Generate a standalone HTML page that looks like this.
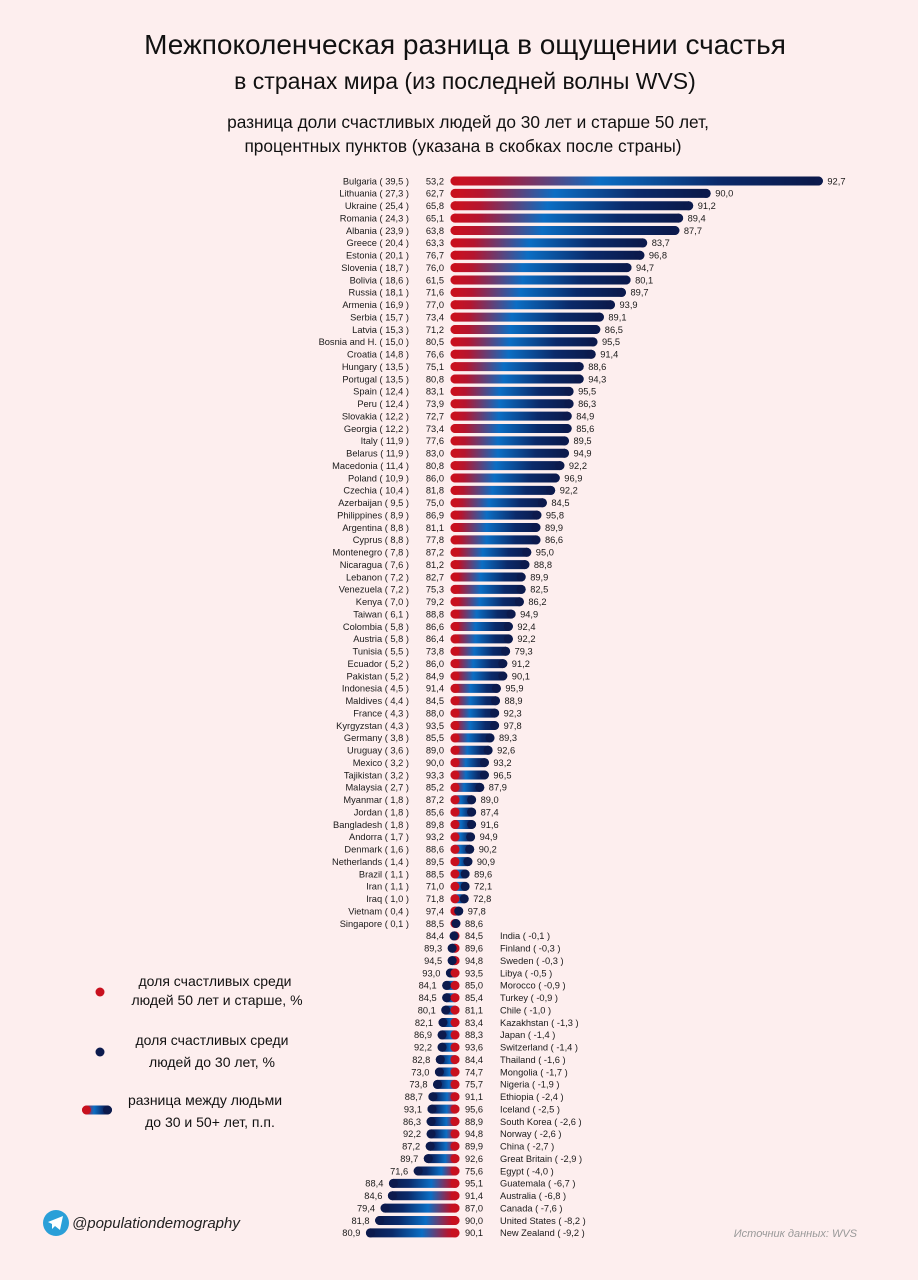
<!DOCTYPE html>
<html><head><meta charset="utf-8"><style>
html,body{margin:0;padding:0;background:#fdeeee;}
svg{display:block;font-family:"Liberation Sans",sans-serif;}
text{font-size:9.3px;fill:#1a1a1a;}
.e{text-anchor:end;}
.t{font-size:28px;text-anchor:middle;fill:#111;}
.s{font-size:23px;text-anchor:middle;fill:#111;}
.c{font-size:17.3px;text-anchor:middle;fill:#111;}
.l{font-size:14px;text-anchor:middle;fill:#111;}
</style></head><body>
<svg width="918" height="1280" viewBox="0 0 918 1280">
<defs>
<linearGradient id="gp" x1="0" x2="1" y1="0" y2="0"><stop offset="0" stop-color="#d0101c"/><stop offset="0.12" stop-color="#b5152f"/><stop offset="0.4" stop-color="#0b6ec4"/><stop offset="0.72" stop-color="#0b2a6a"/><stop offset="1" stop-color="#0b1848"/></linearGradient>
<linearGradient id="gn" x1="1" x2="0" y1="0" y2="0"><stop offset="0" stop-color="#d0101c"/><stop offset="0.12" stop-color="#b5152f"/><stop offset="0.4" stop-color="#0b6ec4"/><stop offset="0.72" stop-color="#0b2a6a"/><stop offset="1" stop-color="#0b1848"/></linearGradient>
</defs>
<text class="t" x="465" y="54">Межпоколенческая разница в ощущении счастья</text>
<text class="s" x="465" y="89">в странах мира (из последней волны WVS)</text>
<text class="c" x="468" y="128">разница доли счастливых людей до 30 лет и старше 50 лет,</text>
<text class="c" x="463" y="152">процентных пунктов (указана в скобках после страны)</text>
<g transform="translate(1,0)">
<g transform="translate(0,181)"><text x="408" y="3.3" class="e">Bulgaria ( 39,5 )</text><text x="443" y="3.3" class="e">53,2</text><rect x="449.5" y="-4.5" width="372.4" height="9" rx="4.5" fill="url(#gp)"/><circle cx="454" r="4.5" fill="#c8101e"/><circle cx="817.4" r="4.5" fill="#0c1a4d"/><text x="826.4" y="3.3">92,7</text></g>
<g transform="translate(0,193.4)"><text x="408" y="3.3" class="e">Lithuania ( 27,3 )</text><text x="443" y="3.3" class="e">62,7</text><rect x="449.5" y="-4.5" width="260.2" height="9" rx="4.5" fill="url(#gp)"/><circle cx="454" r="4.5" fill="#c8101e"/><circle cx="705.2" r="4.5" fill="#0c1a4d"/><text x="714.2" y="3.3">90,0</text></g>
<g transform="translate(0,205.8)"><text x="408" y="3.3" class="e">Ukraine ( 25,4 )</text><text x="443" y="3.3" class="e">65,8</text><rect x="449.5" y="-4.5" width="242.7" height="9" rx="4.5" fill="url(#gp)"/><circle cx="454" r="4.5" fill="#c8101e"/><circle cx="687.7" r="4.5" fill="#0c1a4d"/><text x="696.7" y="3.3">91,2</text></g>
<g transform="translate(0,218.1)"><text x="408" y="3.3" class="e">Romania ( 24,3 )</text><text x="443" y="3.3" class="e">65,1</text><rect x="449.5" y="-4.5" width="232.6" height="9" rx="4.5" fill="url(#gp)"/><circle cx="454" r="4.5" fill="#c8101e"/><circle cx="677.6" r="4.5" fill="#0c1a4d"/><text x="686.6" y="3.3">89,4</text></g>
<g transform="translate(0,230.5)"><text x="408" y="3.3" class="e">Albania ( 23,9 )</text><text x="443" y="3.3" class="e">63,8</text><rect x="449.5" y="-4.5" width="228.9" height="9" rx="4.5" fill="url(#gp)"/><circle cx="454" r="4.5" fill="#c8101e"/><circle cx="673.9" r="4.5" fill="#0c1a4d"/><text x="682.9" y="3.3">87,7</text></g>
<g transform="translate(0,242.9)"><text x="408" y="3.3" class="e">Greece ( 20,4 )</text><text x="443" y="3.3" class="e">63,3</text><rect x="449.5" y="-4.5" width="196.7" height="9" rx="4.5" fill="url(#gp)"/><circle cx="454" r="4.5" fill="#c8101e"/><circle cx="641.7" r="4.5" fill="#0c1a4d"/><text x="650.7" y="3.3">83,7</text></g>
<g transform="translate(0,255.3)"><text x="408" y="3.3" class="e">Estonia ( 20,1 )</text><text x="443" y="3.3" class="e">76,7</text><rect x="449.5" y="-4.5" width="193.9" height="9" rx="4.5" fill="url(#gp)"/><circle cx="454" r="4.5" fill="#c8101e"/><circle cx="638.9" r="4.5" fill="#0c1a4d"/><text x="647.9" y="3.3">96,8</text></g>
<g transform="translate(0,267.6)"><text x="408" y="3.3" class="e">Slovenia ( 18,7 )</text><text x="443" y="3.3" class="e">76,0</text><rect x="449.5" y="-4.5" width="181" height="9" rx="4.5" fill="url(#gp)"/><circle cx="454" r="4.5" fill="#c8101e"/><circle cx="626" r="4.5" fill="#0c1a4d"/><text x="635" y="3.3">94,7</text></g>
<g transform="translate(0,280)"><text x="408" y="3.3" class="e">Bolivia ( 18,6 )</text><text x="443" y="3.3" class="e">61,5</text><rect x="449.5" y="-4.5" width="180.1" height="9" rx="4.5" fill="url(#gp)"/><circle cx="454" r="4.5" fill="#c8101e"/><circle cx="625.1" r="4.5" fill="#0c1a4d"/><text x="634.1" y="3.3">80,1</text></g>
<g transform="translate(0,292.4)"><text x="408" y="3.3" class="e">Russia ( 18,1 )</text><text x="443" y="3.3" class="e">71,6</text><rect x="449.5" y="-4.5" width="175.5" height="9" rx="4.5" fill="url(#gp)"/><circle cx="454" r="4.5" fill="#c8101e"/><circle cx="620.5" r="4.5" fill="#0c1a4d"/><text x="629.5" y="3.3">89,7</text></g>
<g transform="translate(0,304.8)"><text x="408" y="3.3" class="e">Armenia ( 16,9 )</text><text x="443" y="3.3" class="e">77,0</text><rect x="449.5" y="-4.5" width="164.5" height="9" rx="4.5" fill="url(#gp)"/><circle cx="454" r="4.5" fill="#c8101e"/><circle cx="609.5" r="4.5" fill="#0c1a4d"/><text x="618.5" y="3.3">93,9</text></g>
<g transform="translate(0,317.1)"><text x="408" y="3.3" class="e">Serbia ( 15,7 )</text><text x="443" y="3.3" class="e">73,4</text><rect x="449.5" y="-4.5" width="153.4" height="9" rx="4.5" fill="url(#gp)"/><circle cx="454" r="4.5" fill="#c8101e"/><circle cx="598.4" r="4.5" fill="#0c1a4d"/><text x="607.4" y="3.3">89,1</text></g>
<g transform="translate(0,329.5)"><text x="408" y="3.3" class="e">Latvia ( 15,3 )</text><text x="443" y="3.3" class="e">71,2</text><rect x="449.5" y="-4.5" width="149.8" height="9" rx="4.5" fill="url(#gp)"/><circle cx="454" r="4.5" fill="#c8101e"/><circle cx="594.8" r="4.5" fill="#0c1a4d"/><text x="603.8" y="3.3">86,5</text></g>
<g transform="translate(0,341.9)"><text x="408" y="3.3" class="e">Bosnia and H. ( 15,0 )</text><text x="443" y="3.3" class="e">80,5</text><rect x="449.5" y="-4.5" width="147" height="9" rx="4.5" fill="url(#gp)"/><circle cx="454" r="4.5" fill="#c8101e"/><circle cx="592" r="4.5" fill="#0c1a4d"/><text x="601" y="3.3">95,5</text></g>
<g transform="translate(0,354.3)"><text x="408" y="3.3" class="e">Croatia ( 14,8 )</text><text x="443" y="3.3" class="e">76,6</text><rect x="449.5" y="-4.5" width="145.2" height="9" rx="4.5" fill="url(#gp)"/><circle cx="454" r="4.5" fill="#c8101e"/><circle cx="590.2" r="4.5" fill="#0c1a4d"/><text x="599.2" y="3.3">91,4</text></g>
<g transform="translate(0,366.6)"><text x="408" y="3.3" class="e">Hungary ( 13,5 )</text><text x="443" y="3.3" class="e">75,1</text><rect x="449.5" y="-4.5" width="133.2" height="9" rx="4.5" fill="url(#gp)"/><circle cx="454" r="4.5" fill="#c8101e"/><circle cx="578.2" r="4.5" fill="#0c1a4d"/><text x="587.2" y="3.3">88,6</text></g>
<g transform="translate(0,379)"><text x="408" y="3.3" class="e">Portugal ( 13,5 )</text><text x="443" y="3.3" class="e">80,8</text><rect x="449.5" y="-4.5" width="133.2" height="9" rx="4.5" fill="url(#gp)"/><circle cx="454" r="4.5" fill="#c8101e"/><circle cx="578.2" r="4.5" fill="#0c1a4d"/><text x="587.2" y="3.3">94,3</text></g>
<g transform="translate(0,391.4)"><text x="408" y="3.3" class="e">Spain ( 12,4 )</text><text x="443" y="3.3" class="e">83,1</text><rect x="449.5" y="-4.5" width="123.1" height="9" rx="4.5" fill="url(#gp)"/><circle cx="454" r="4.5" fill="#c8101e"/><circle cx="568.1" r="4.5" fill="#0c1a4d"/><text x="577.1" y="3.3">95,5</text></g>
<g transform="translate(0,403.8)"><text x="408" y="3.3" class="e">Peru ( 12,4 )</text><text x="443" y="3.3" class="e">73,9</text><rect x="449.5" y="-4.5" width="123.1" height="9" rx="4.5" fill="url(#gp)"/><circle cx="454" r="4.5" fill="#c8101e"/><circle cx="568.1" r="4.5" fill="#0c1a4d"/><text x="577.1" y="3.3">86,3</text></g>
<g transform="translate(0,416.1)"><text x="408" y="3.3" class="e">Slovakia ( 12,2 )</text><text x="443" y="3.3" class="e">72,7</text><rect x="449.5" y="-4.5" width="121.2" height="9" rx="4.5" fill="url(#gp)"/><circle cx="454" r="4.5" fill="#c8101e"/><circle cx="566.2" r="4.5" fill="#0c1a4d"/><text x="575.2" y="3.3">84,9</text></g>
<g transform="translate(0,428.5)"><text x="408" y="3.3" class="e">Georgia ( 12,2 )</text><text x="443" y="3.3" class="e">73,4</text><rect x="449.5" y="-4.5" width="121.2" height="9" rx="4.5" fill="url(#gp)"/><circle cx="454" r="4.5" fill="#c8101e"/><circle cx="566.2" r="4.5" fill="#0c1a4d"/><text x="575.2" y="3.3">85,6</text></g>
<g transform="translate(0,440.9)"><text x="408" y="3.3" class="e">Italy ( 11,9 )</text><text x="443" y="3.3" class="e">77,6</text><rect x="449.5" y="-4.5" width="118.5" height="9" rx="4.5" fill="url(#gp)"/><circle cx="454" r="4.5" fill="#c8101e"/><circle cx="563.5" r="4.5" fill="#0c1a4d"/><text x="572.5" y="3.3">89,5</text></g>
<g transform="translate(0,453.3)"><text x="408" y="3.3" class="e">Belarus ( 11,9 )</text><text x="443" y="3.3" class="e">83,0</text><rect x="449.5" y="-4.5" width="118.5" height="9" rx="4.5" fill="url(#gp)"/><circle cx="454" r="4.5" fill="#c8101e"/><circle cx="563.5" r="4.5" fill="#0c1a4d"/><text x="572.5" y="3.3">94,9</text></g>
<g transform="translate(0,465.6)"><text x="408" y="3.3" class="e">Macedonia ( 11,4 )</text><text x="443" y="3.3" class="e">80,8</text><rect x="449.5" y="-4.5" width="113.9" height="9" rx="4.5" fill="url(#gp)"/><circle cx="454" r="4.5" fill="#c8101e"/><circle cx="558.9" r="4.5" fill="#0c1a4d"/><text x="567.9" y="3.3">92,2</text></g>
<g transform="translate(0,478)"><text x="408" y="3.3" class="e">Poland ( 10,9 )</text><text x="443" y="3.3" class="e">86,0</text><rect x="449.5" y="-4.5" width="109.3" height="9" rx="4.5" fill="url(#gp)"/><circle cx="454" r="4.5" fill="#c8101e"/><circle cx="554.3" r="4.5" fill="#0c1a4d"/><text x="563.3" y="3.3">96,9</text></g>
<g transform="translate(0,490.4)"><text x="408" y="3.3" class="e">Czechia ( 10,4 )</text><text x="443" y="3.3" class="e">81,8</text><rect x="449.5" y="-4.5" width="104.7" height="9" rx="4.5" fill="url(#gp)"/><circle cx="454" r="4.5" fill="#c8101e"/><circle cx="549.7" r="4.5" fill="#0c1a4d"/><text x="558.7" y="3.3">92,2</text></g>
<g transform="translate(0,502.8)"><text x="408" y="3.3" class="e">Azerbaijan ( 9,5 )</text><text x="443" y="3.3" class="e">75,0</text><rect x="449.5" y="-4.5" width="96.4" height="9" rx="4.5" fill="url(#gp)"/><circle cx="454" r="4.5" fill="#c8101e"/><circle cx="541.4" r="4.5" fill="#0c1a4d"/><text x="550.4" y="3.3">84,5</text></g>
<g transform="translate(0,515.1)"><text x="408" y="3.3" class="e">Philippines ( 8,9 )</text><text x="443" y="3.3" class="e">86,9</text><rect x="449.5" y="-4.5" width="90.9" height="9" rx="4.5" fill="url(#gp)"/><circle cx="454" r="4.5" fill="#c8101e"/><circle cx="535.9" r="4.5" fill="#0c1a4d"/><text x="544.9" y="3.3">95,8</text></g>
<g transform="translate(0,527.5)"><text x="408" y="3.3" class="e">Argentina ( 8,8 )</text><text x="443" y="3.3" class="e">81,1</text><rect x="449.5" y="-4.5" width="90" height="9" rx="4.5" fill="url(#gp)"/><circle cx="454" r="4.5" fill="#c8101e"/><circle cx="535" r="4.5" fill="#0c1a4d"/><text x="544" y="3.3">89,9</text></g>
<g transform="translate(0,539.9)"><text x="408" y="3.3" class="e">Cyprus ( 8,8 )</text><text x="443" y="3.3" class="e">77,8</text><rect x="449.5" y="-4.5" width="90" height="9" rx="4.5" fill="url(#gp)"/><circle cx="454" r="4.5" fill="#c8101e"/><circle cx="535" r="4.5" fill="#0c1a4d"/><text x="544" y="3.3">86,6</text></g>
<g transform="translate(0,552.3)"><text x="408" y="3.3" class="e">Montenegro ( 7,8 )</text><text x="443" y="3.3" class="e">87,2</text><rect x="449.5" y="-4.5" width="80.8" height="9" rx="4.5" fill="url(#gp)"/><circle cx="454" r="4.5" fill="#c8101e"/><circle cx="525.8" r="4.5" fill="#0c1a4d"/><text x="534.8" y="3.3">95,0</text></g>
<g transform="translate(0,564.6)"><text x="408" y="3.3" class="e">Nicaragua ( 7,6 )</text><text x="443" y="3.3" class="e">81,2</text><rect x="449.5" y="-4.5" width="78.9" height="9" rx="4.5" fill="url(#gp)"/><circle cx="454" r="4.5" fill="#c8101e"/><circle cx="523.9" r="4.5" fill="#0c1a4d"/><text x="532.9" y="3.3">88,8</text></g>
<g transform="translate(0,577)"><text x="408" y="3.3" class="e">Lebanon ( 7,2 )</text><text x="443" y="3.3" class="e">82,7</text><rect x="449.5" y="-4.5" width="75.2" height="9" rx="4.5" fill="url(#gp)"/><circle cx="454" r="4.5" fill="#c8101e"/><circle cx="520.2" r="4.5" fill="#0c1a4d"/><text x="529.2" y="3.3">89,9</text></g>
<g transform="translate(0,589.4)"><text x="408" y="3.3" class="e">Venezuela ( 7,2 )</text><text x="443" y="3.3" class="e">75,3</text><rect x="449.5" y="-4.5" width="75.2" height="9" rx="4.5" fill="url(#gp)"/><circle cx="454" r="4.5" fill="#c8101e"/><circle cx="520.2" r="4.5" fill="#0c1a4d"/><text x="529.2" y="3.3">82,5</text></g>
<g transform="translate(0,601.8)"><text x="408" y="3.3" class="e">Kenya ( 7,0 )</text><text x="443" y="3.3" class="e">79,2</text><rect x="449.5" y="-4.5" width="73.4" height="9" rx="4.5" fill="url(#gp)"/><circle cx="454" r="4.5" fill="#c8101e"/><circle cx="518.4" r="4.5" fill="#0c1a4d"/><text x="527.4" y="3.3">86,2</text></g>
<g transform="translate(0,614.1)"><text x="408" y="3.3" class="e">Taiwan ( 6,1 )</text><text x="443" y="3.3" class="e">88,8</text><rect x="449.5" y="-4.5" width="65.1" height="9" rx="4.5" fill="url(#gp)"/><circle cx="454" r="4.5" fill="#c8101e"/><circle cx="510.1" r="4.5" fill="#0c1a4d"/><text x="519.1" y="3.3">94,9</text></g>
<g transform="translate(0,626.5)"><text x="408" y="3.3" class="e">Colombia ( 5,8 )</text><text x="443" y="3.3" class="e">86,6</text><rect x="449.5" y="-4.5" width="62.4" height="9" rx="4.5" fill="url(#gp)"/><circle cx="454" r="4.5" fill="#c8101e"/><circle cx="507.4" r="4.5" fill="#0c1a4d"/><text x="516.4" y="3.3">92,4</text></g>
<g transform="translate(0,638.9)"><text x="408" y="3.3" class="e">Austria ( 5,8 )</text><text x="443" y="3.3" class="e">86,4</text><rect x="449.5" y="-4.5" width="62.4" height="9" rx="4.5" fill="url(#gp)"/><circle cx="454" r="4.5" fill="#c8101e"/><circle cx="507.4" r="4.5" fill="#0c1a4d"/><text x="516.4" y="3.3">92,2</text></g>
<g transform="translate(0,651.3)"><text x="408" y="3.3" class="e">Tunisia ( 5,5 )</text><text x="443" y="3.3" class="e">73,8</text><rect x="449.5" y="-4.5" width="59.6" height="9" rx="4.5" fill="url(#gp)"/><circle cx="454" r="4.5" fill="#c8101e"/><circle cx="504.6" r="4.5" fill="#0c1a4d"/><text x="513.6" y="3.3">79,3</text></g>
<g transform="translate(0,663.6)"><text x="408" y="3.3" class="e">Ecuador ( 5,2 )</text><text x="443" y="3.3" class="e">86,0</text><rect x="449.5" y="-4.5" width="56.8" height="9" rx="4.5" fill="url(#gp)"/><circle cx="454" r="4.5" fill="#c8101e"/><circle cx="501.8" r="4.5" fill="#0c1a4d"/><text x="510.8" y="3.3">91,2</text></g>
<g transform="translate(0,676)"><text x="408" y="3.3" class="e">Pakistan ( 5,2 )</text><text x="443" y="3.3" class="e">84,9</text><rect x="449.5" y="-4.5" width="56.8" height="9" rx="4.5" fill="url(#gp)"/><circle cx="454" r="4.5" fill="#c8101e"/><circle cx="501.8" r="4.5" fill="#0c1a4d"/><text x="510.8" y="3.3">90,1</text></g>
<g transform="translate(0,688.4)"><text x="408" y="3.3" class="e">Indonesia ( 4,5 )</text><text x="443" y="3.3" class="e">91,4</text><rect x="449.5" y="-4.5" width="50.4" height="9" rx="4.5" fill="url(#gp)"/><circle cx="454" r="4.5" fill="#c8101e"/><circle cx="495.4" r="4.5" fill="#0c1a4d"/><text x="504.4" y="3.3">95,9</text></g>
<g transform="translate(0,700.8)"><text x="408" y="3.3" class="e">Maldives ( 4,4 )</text><text x="443" y="3.3" class="e">84,5</text><rect x="449.5" y="-4.5" width="49.5" height="9" rx="4.5" fill="url(#gp)"/><circle cx="454" r="4.5" fill="#c8101e"/><circle cx="494.5" r="4.5" fill="#0c1a4d"/><text x="503.5" y="3.3">88,9</text></g>
<g transform="translate(0,713.1)"><text x="408" y="3.3" class="e">France ( 4,3 )</text><text x="443" y="3.3" class="e">88,0</text><rect x="449.5" y="-4.5" width="48.6" height="9" rx="4.5" fill="url(#gp)"/><circle cx="454" r="4.5" fill="#c8101e"/><circle cx="493.6" r="4.5" fill="#0c1a4d"/><text x="502.6" y="3.3">92,3</text></g>
<g transform="translate(0,725.5)"><text x="408" y="3.3" class="e">Kyrgyzstan ( 4,3 )</text><text x="443" y="3.3" class="e">93,5</text><rect x="449.5" y="-4.5" width="48.6" height="9" rx="4.5" fill="url(#gp)"/><circle cx="454" r="4.5" fill="#c8101e"/><circle cx="493.6" r="4.5" fill="#0c1a4d"/><text x="502.6" y="3.3">97,8</text></g>
<g transform="translate(0,737.9)"><text x="408" y="3.3" class="e">Germany ( 3,8 )</text><text x="443" y="3.3" class="e">85,5</text><rect x="449.5" y="-4.5" width="44" height="9" rx="4.5" fill="url(#gp)"/><circle cx="454" r="4.5" fill="#c8101e"/><circle cx="489" r="4.5" fill="#0c1a4d"/><text x="498" y="3.3">89,3</text></g>
<g transform="translate(0,750.3)"><text x="408" y="3.3" class="e">Uruguay ( 3,6 )</text><text x="443" y="3.3" class="e">89,0</text><rect x="449.5" y="-4.5" width="42.1" height="9" rx="4.5" fill="url(#gp)"/><circle cx="454" r="4.5" fill="#c8101e"/><circle cx="487.1" r="4.5" fill="#0c1a4d"/><text x="496.1" y="3.3">92,6</text></g>
<g transform="translate(0,762.6)"><text x="408" y="3.3" class="e">Mexico ( 3,2 )</text><text x="443" y="3.3" class="e">90,0</text><rect x="449.5" y="-4.5" width="38.4" height="9" rx="4.5" fill="url(#gp)"/><circle cx="454" r="4.5" fill="#c8101e"/><circle cx="483.4" r="4.5" fill="#0c1a4d"/><text x="492.4" y="3.3">93,2</text></g>
<g transform="translate(0,775)"><text x="408" y="3.3" class="e">Tajikistan ( 3,2 )</text><text x="443" y="3.3" class="e">93,3</text><rect x="449.5" y="-4.5" width="38.4" height="9" rx="4.5" fill="url(#gp)"/><circle cx="454" r="4.5" fill="#c8101e"/><circle cx="483.4" r="4.5" fill="#0c1a4d"/><text x="492.4" y="3.3">96,5</text></g>
<g transform="translate(0,787.4)"><text x="408" y="3.3" class="e">Malaysia ( 2,7 )</text><text x="443" y="3.3" class="e">85,2</text><rect x="449.5" y="-4.5" width="33.8" height="9" rx="4.5" fill="url(#gp)"/><circle cx="454" r="4.5" fill="#c8101e"/><circle cx="478.8" r="4.5" fill="#0c1a4d"/><text x="487.8" y="3.3">87,9</text></g>
<g transform="translate(0,799.8)"><text x="408" y="3.3" class="e">Myanmar ( 1,8 )</text><text x="443" y="3.3" class="e">87,2</text><rect x="449.5" y="-4.5" width="25.6" height="9" rx="4.5" fill="url(#gp)"/><circle cx="454" r="4.5" fill="#c8101e"/><circle cx="470.6" r="4.5" fill="#0c1a4d"/><text x="479.6" y="3.3">89,0</text></g>
<g transform="translate(0,812.1)"><text x="408" y="3.3" class="e">Jordan ( 1,8 )</text><text x="443" y="3.3" class="e">85,6</text><rect x="449.5" y="-4.5" width="25.6" height="9" rx="4.5" fill="url(#gp)"/><circle cx="454" r="4.5" fill="#c8101e"/><circle cx="470.6" r="4.5" fill="#0c1a4d"/><text x="479.6" y="3.3">87,4</text></g>
<g transform="translate(0,824.5)"><text x="408" y="3.3" class="e">Bangladesh ( 1,8 )</text><text x="443" y="3.3" class="e">89,8</text><rect x="449.5" y="-4.5" width="25.6" height="9" rx="4.5" fill="url(#gp)"/><circle cx="454" r="4.5" fill="#c8101e"/><circle cx="470.6" r="4.5" fill="#0c1a4d"/><text x="479.6" y="3.3">91,6</text></g>
<g transform="translate(0,836.9)"><text x="408" y="3.3" class="e">Andorra ( 1,7 )</text><text x="443" y="3.3" class="e">93,2</text><rect x="449.5" y="-4.5" width="24.6" height="9" rx="4.5" fill="url(#gp)"/><circle cx="454" r="4.5" fill="#c8101e"/><circle cx="469.6" r="4.5" fill="#0c1a4d"/><text x="478.6" y="3.3">94,9</text></g>
<g transform="translate(0,849.3)"><text x="408" y="3.3" class="e">Denmark ( 1,6 )</text><text x="443" y="3.3" class="e">88,6</text><rect x="449.5" y="-4.5" width="23.7" height="9" rx="4.5" fill="url(#gp)"/><circle cx="454" r="4.5" fill="#c8101e"/><circle cx="468.7" r="4.5" fill="#0c1a4d"/><text x="477.7" y="3.3">90,2</text></g>
<g transform="translate(0,861.6)"><text x="408" y="3.3" class="e">Netherlands ( 1,4 )</text><text x="443" y="3.3" class="e">89,5</text><rect x="449.5" y="-4.5" width="21.9" height="9" rx="4.5" fill="url(#gp)"/><circle cx="454" r="4.5" fill="#c8101e"/><circle cx="466.9" r="4.5" fill="#0c1a4d"/><text x="475.9" y="3.3">90,9</text></g>
<g transform="translate(0,874)"><text x="408" y="3.3" class="e">Brazil ( 1,1 )</text><text x="443" y="3.3" class="e">88,5</text><rect x="449.5" y="-4.5" width="19.1" height="9" rx="4.5" fill="url(#gp)"/><circle cx="454" r="4.5" fill="#c8101e"/><circle cx="464.1" r="4.5" fill="#0c1a4d"/><text x="473.1" y="3.3">89,6</text></g>
<g transform="translate(0,886.4)"><text x="408" y="3.3" class="e">Iran ( 1,1 )</text><text x="443" y="3.3" class="e">71,0</text><rect x="449.5" y="-4.5" width="19.1" height="9" rx="4.5" fill="url(#gp)"/><circle cx="454" r="4.5" fill="#c8101e"/><circle cx="464.1" r="4.5" fill="#0c1a4d"/><text x="473.1" y="3.3">72,1</text></g>
<g transform="translate(0,898.8)"><text x="408" y="3.3" class="e">Iraq ( 1,0 )</text><text x="443" y="3.3" class="e">71,8</text><rect x="449.5" y="-4.5" width="18.2" height="9" rx="4.5" fill="url(#gp)"/><circle cx="454" r="4.5" fill="#c8101e"/><circle cx="463.2" r="4.5" fill="#0c1a4d"/><text x="472.2" y="3.3">72,8</text></g>
<g transform="translate(0,911.1)"><text x="408" y="3.3" class="e">Vietnam ( 0,4 )</text><text x="443" y="3.3" class="e">97,4</text><rect x="449.5" y="-4.5" width="12.7" height="9" rx="4.5" fill="url(#gp)"/><circle cx="454" r="4.5" fill="#c8101e"/><circle cx="457.7" r="4.5" fill="#0c1a4d"/><text x="466.7" y="3.3">97,8</text></g>
<g transform="translate(0,923.5)"><text x="408" y="3.3" class="e">Singapore ( 0,1 )</text><text x="443" y="3.3" class="e">88,5</text><rect x="449.5" y="-4.5" width="9.9" height="9" rx="4.5" fill="url(#gp)"/><circle cx="454" r="4.5" fill="#c8101e"/><circle cx="454.9" r="4.5" fill="#0c1a4d"/><text x="464" y="3.3">88,6</text></g>

<g transform="translate(0,935.9)"><text x="443.1" y="3.3" class="e">84,4</text><rect x="448.6" y="-4.5" width="9.9" height="9" rx="4.5" fill="url(#gn)"/><circle cx="454" r="4.5" fill="#c8101e"/><circle cx="453.1" r="4.5" fill="#0c1a4d"/><text x="464" y="3.3">84,5</text><text x="499" y="3.3">India ( -0,1 )</text></g>
<g transform="translate(0,948.2)"><text x="441.2" y="3.3" class="e">89,3</text><rect x="446.7" y="-4.5" width="11.8" height="9" rx="4.5" fill="url(#gn)"/><circle cx="454" r="4.5" fill="#c8101e"/><circle cx="451.2" r="4.5" fill="#0c1a4d"/><text x="464" y="3.3">89,6</text><text x="499" y="3.3">Finland ( -0,3 )</text></g>
<g transform="translate(0,960.6)"><text x="441.2" y="3.3" class="e">94,5</text><rect x="446.7" y="-4.5" width="11.8" height="9" rx="4.5" fill="url(#gn)"/><circle cx="454" r="4.5" fill="#c8101e"/><circle cx="451.2" r="4.5" fill="#0c1a4d"/><text x="464" y="3.3">94,8</text><text x="499" y="3.3">Sweden ( -0,3 )</text></g>
<g transform="translate(0,973)"><text x="439.4" y="3.3" class="e">93,0</text><rect x="444.9" y="-4.5" width="13.6" height="9" rx="4.5" fill="url(#gn)"/><circle cx="449.4" r="4.5" fill="#0c1a4d"/><circle cx="454" r="4.5" fill="#c8101e"/><text x="464" y="3.3">93,5</text><text x="499" y="3.3">Libya ( -0,5 )</text></g>
<g transform="translate(0,985.4)"><text x="435.7" y="3.3" class="e">84,1</text><rect x="441.2" y="-4.5" width="17.3" height="9" rx="4.5" fill="url(#gn)"/><circle cx="445.7" r="4.5" fill="#0c1a4d"/><circle cx="454" r="4.5" fill="#c8101e"/><text x="464" y="3.3">85,0</text><text x="499" y="3.3">Morocco ( -0,9 )</text></g>
<g transform="translate(0,997.7)"><text x="435.7" y="3.3" class="e">84,5</text><rect x="441.2" y="-4.5" width="17.3" height="9" rx="4.5" fill="url(#gn)"/><circle cx="445.7" r="4.5" fill="#0c1a4d"/><circle cx="454" r="4.5" fill="#c8101e"/><text x="464" y="3.3">85,4</text><text x="499" y="3.3">Turkey ( -0,9 )</text></g>
<g transform="translate(0,1010.1)"><text x="434.8" y="3.3" class="e">80,1</text><rect x="440.3" y="-4.5" width="18.2" height="9" rx="4.5" fill="url(#gn)"/><circle cx="444.8" r="4.5" fill="#0c1a4d"/><circle cx="454" r="4.5" fill="#c8101e"/><text x="464" y="3.3">81,1</text><text x="499" y="3.3">Chile ( -1,0 )</text></g>
<g transform="translate(0,1022.5)"><text x="432" y="3.3" class="e">82,1</text><rect x="437.5" y="-4.5" width="21" height="9" rx="4.5" fill="url(#gn)"/><circle cx="442" r="4.5" fill="#0c1a4d"/><circle cx="454" r="4.5" fill="#c8101e"/><text x="464" y="3.3">83,4</text><text x="499" y="3.3">Kazakhstan ( -1,3 )</text></g>
<g transform="translate(0,1034.9)"><text x="431.1" y="3.3" class="e">86,9</text><rect x="436.6" y="-4.5" width="21.9" height="9" rx="4.5" fill="url(#gn)"/><circle cx="441.1" r="4.5" fill="#0c1a4d"/><circle cx="454" r="4.5" fill="#c8101e"/><text x="464" y="3.3">88,3</text><text x="499" y="3.3">Japan ( -1,4 )</text></g>
<g transform="translate(0,1047.2)"><text x="431.1" y="3.3" class="e">92,2</text><rect x="436.6" y="-4.5" width="21.9" height="9" rx="4.5" fill="url(#gn)"/><circle cx="441.1" r="4.5" fill="#0c1a4d"/><circle cx="454" r="4.5" fill="#c8101e"/><text x="464" y="3.3">93,6</text><text x="499" y="3.3">Switzerland ( -1,4 )</text></g>
<g transform="translate(0,1059.6)"><text x="429.3" y="3.3" class="e">82,8</text><rect x="434.8" y="-4.5" width="23.7" height="9" rx="4.5" fill="url(#gn)"/><circle cx="439.3" r="4.5" fill="#0c1a4d"/><circle cx="454" r="4.5" fill="#c8101e"/><text x="464" y="3.3">84,4</text><text x="499" y="3.3">Thailand ( -1,6 )</text></g>
<g transform="translate(0,1072)"><text x="428.4" y="3.3" class="e">73,0</text><rect x="433.9" y="-4.5" width="24.6" height="9" rx="4.5" fill="url(#gn)"/><circle cx="438.4" r="4.5" fill="#0c1a4d"/><circle cx="454" r="4.5" fill="#c8101e"/><text x="464" y="3.3">74,7</text><text x="499" y="3.3">Mongolia ( -1,7 )</text></g>
<g transform="translate(0,1084.4)"><text x="426.5" y="3.3" class="e">73,8</text><rect x="432" y="-4.5" width="26.5" height="9" rx="4.5" fill="url(#gn)"/><circle cx="436.5" r="4.5" fill="#0c1a4d"/><circle cx="454" r="4.5" fill="#c8101e"/><text x="464" y="3.3">75,7</text><text x="499" y="3.3">Nigeria ( -1,9 )</text></g>
<g transform="translate(0,1096.7)"><text x="421.9" y="3.3" class="e">88,7</text><rect x="427.4" y="-4.5" width="31.1" height="9" rx="4.5" fill="url(#gn)"/><circle cx="431.9" r="4.5" fill="#0c1a4d"/><circle cx="454" r="4.5" fill="#c8101e"/><text x="464" y="3.3">91,1</text><text x="499" y="3.3">Ethiopia ( -2,4 )</text></g>
<g transform="translate(0,1109.1)"><text x="421" y="3.3" class="e">93,1</text><rect x="426.5" y="-4.5" width="32" height="9" rx="4.5" fill="url(#gn)"/><circle cx="431" r="4.5" fill="#0c1a4d"/><circle cx="454" r="4.5" fill="#c8101e"/><text x="464" y="3.3">95,6</text><text x="499" y="3.3">Iceland ( -2,5 )</text></g>
<g transform="translate(0,1121.5)"><text x="420.1" y="3.3" class="e">86,3</text><rect x="425.6" y="-4.5" width="32.9" height="9" rx="4.5" fill="url(#gn)"/><circle cx="430.1" r="4.5" fill="#0c1a4d"/><circle cx="454" r="4.5" fill="#c8101e"/><text x="464" y="3.3">88,9</text><text x="499" y="3.3">South Korea ( -2,6 )</text></g>
<g transform="translate(0,1133.9)"><text x="420.1" y="3.3" class="e">92,2</text><rect x="425.6" y="-4.5" width="32.9" height="9" rx="4.5" fill="url(#gn)"/><circle cx="430.1" r="4.5" fill="#0c1a4d"/><circle cx="454" r="4.5" fill="#c8101e"/><text x="464" y="3.3">94,8</text><text x="499" y="3.3">Norway ( -2,6 )</text></g>
<g transform="translate(0,1146.2)"><text x="419.2" y="3.3" class="e">87,2</text><rect x="424.7" y="-4.5" width="33.8" height="9" rx="4.5" fill="url(#gn)"/><circle cx="429.2" r="4.5" fill="#0c1a4d"/><circle cx="454" r="4.5" fill="#c8101e"/><text x="464" y="3.3">89,9</text><text x="499" y="3.3">China ( -2,7 )</text></g>
<g transform="translate(0,1158.6)"><text x="417.3" y="3.3" class="e">89,7</text><rect x="422.8" y="-4.5" width="35.7" height="9" rx="4.5" fill="url(#gn)"/><circle cx="427.3" r="4.5" fill="#0c1a4d"/><circle cx="454" r="4.5" fill="#c8101e"/><text x="464" y="3.3">92,6</text><text x="499" y="3.3">Great Britain ( -2,9 )</text></g>
<g transform="translate(0,1171)"><text x="407.2" y="3.3" class="e">71,6</text><rect x="412.7" y="-4.5" width="45.8" height="9" rx="4.5" fill="url(#gn)"/><circle cx="417.2" r="4.5" fill="#0c1a4d"/><circle cx="454" r="4.5" fill="#c8101e"/><text x="464" y="3.3">75,6</text><text x="499" y="3.3">Egypt ( -4,0 )</text></g>
<g transform="translate(0,1183.4)"><text x="382.4" y="3.3" class="e">88,4</text><rect x="387.9" y="-4.5" width="70.6" height="9" rx="4.5" fill="url(#gn)"/><circle cx="392.4" r="4.5" fill="#0c1a4d"/><circle cx="454" r="4.5" fill="#c8101e"/><text x="464" y="3.3">95,1</text><text x="499" y="3.3">Guatemala ( -6,7 )</text></g>
<g transform="translate(0,1195.7)"><text x="381.4" y="3.3" class="e">84,6</text><rect x="386.9" y="-4.5" width="71.6" height="9" rx="4.5" fill="url(#gn)"/><circle cx="391.4" r="4.5" fill="#0c1a4d"/><circle cx="454" r="4.5" fill="#c8101e"/><text x="464" y="3.3">91,4</text><text x="499" y="3.3">Australia ( -6,8 )</text></g>
<g transform="translate(0,1208.1)"><text x="374.1" y="3.3" class="e">79,4</text><rect x="379.6" y="-4.5" width="78.9" height="9" rx="4.5" fill="url(#gn)"/><circle cx="384.1" r="4.5" fill="#0c1a4d"/><circle cx="454" r="4.5" fill="#c8101e"/><text x="464" y="3.3">87,0</text><text x="499" y="3.3">Canada ( -7,6 )</text></g>
<g transform="translate(0,1220.5)"><text x="368.6" y="3.3" class="e">81,8</text><rect x="374.1" y="-4.5" width="84.4" height="9" rx="4.5" fill="url(#gn)"/><circle cx="378.6" r="4.5" fill="#0c1a4d"/><circle cx="454" r="4.5" fill="#c8101e"/><text x="464" y="3.3">90,0</text><text x="499" y="3.3">United States ( -8,2 )</text></g>
<g transform="translate(0,1232.9)"><text x="359.4" y="3.3" class="e">80,9</text><rect x="364.9" y="-4.5" width="93.6" height="9" rx="4.5" fill="url(#gn)"/><circle cx="369.4" r="4.5" fill="#0c1a4d"/><circle cx="454" r="4.5" fill="#c8101e"/><text x="464" y="3.3">90,1</text><text x="499" y="3.3">New Zealand ( -9,2 )</text></g>
</g>

<circle cx="100" cy="992" r="4.5" fill="#c8101e"/>
<text class="l" x="215" y="986">доля счастливых среди</text>
<text class="l" x="217" y="1005">людей 50 лет и старше, %</text>
<circle cx="100" cy="1052" r="4.5" fill="#0c1a4d"/>
<text class="l" x="212" y="1045">доля счастливых среди</text>
<text class="l" x="212" y="1067">людей до 30 лет, %</text>
<rect x="82" y="1105.5" width="30" height="9" rx="4.5" fill="url(#gp)"/>
<circle cx="86.5" cy="1110" r="4.5" fill="#c8101e"/>
<circle cx="107.5" cy="1110" r="4.5" fill="#0c1a4d"/>
<text class="l" x="205" y="1105">разница между людьми</text>
<text class="l" x="210" y="1127">до 30 и 50+ лет, п.п.</text>

<circle cx="56" cy="1223" r="13" fill="#2a9fd8"/>
<path d="M48 1222 L63 1216 L60 1230 L55 1226 L52 1229 L52 1224 Z" fill="#fff"/>
<text x="72" y="1228" style="font-size:15px;font-style:italic;fill:#222">@populationdemography</text>
<text x="857" y="1237" class="e" style="font-size:11px;font-style:italic;fill:#999">Источник данных: WVS</text>
</svg>
</body></html>
